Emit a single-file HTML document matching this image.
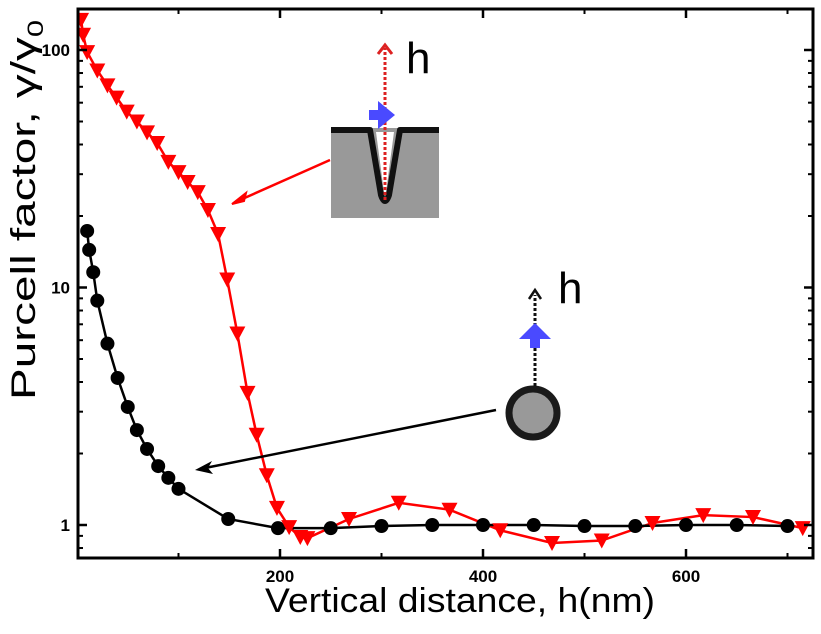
<!DOCTYPE html>
<html><head><meta charset="utf-8"><style>
html,body{margin:0;padding:0;background:#fff;}
svg{display:block;font-family:"Liberation Sans",Arial,sans-serif;}
</style></head><body>
<svg id="chart" width="821" height="634" viewBox="0 0 821 634" xmlns="http://www.w3.org/2000/svg">
<defs><clipPath id="clip"><rect x="78" y="9" width="735" height="549"/></clipPath></defs>
<g id="marks" clip-path="url(#clip)"></g>
<g id="axes"></g>
<g>
<rect x="331" y="128" width="108" height="90" fill="#999"/>
<path d="M331 130 L370 130 L381 195 Q385 207 389 195 L400 130 L439 130" fill="none" stroke="#111" stroke-width="6" stroke-linejoin="round"/>
<path d="M376 132 L384 192 L386 192 L394 132 Z" fill="#fff"/>
<line x1="385" y1="200" x2="385" y2="48" stroke="#d22" stroke-width="3" stroke-dasharray="3,2"/>
<path d="M378 54 L385 45 L392 54" fill="none" stroke="#d22" stroke-width="3"/>
<rect x="369" y="110" width="10" height="10" fill="#4a4aff"/>
<path d="M378 101 L395 115 L378 129 Z" fill="#4a4aff"/>
<text x="406" y="73" font-size="44" fill="#000">h</text>
</g>
<line x1="330" y1="160" x2="240" y2="200" stroke="#f00" stroke-width="2.5"/>
<path d="M232 204 L246 193 L244 201 Z" fill="#f00" stroke="#f00" stroke-width="2"/>
<g>
<circle cx="533" cy="413" r="24" fill="#999" stroke="#1a1a1a" stroke-width="7"/>
<line x1="535" y1="386" x2="535" y2="295" stroke="#111" stroke-width="3" stroke-dasharray="3,2"/>
<path d="M529 299 L535 290 L541 299" fill="none" stroke="#111" stroke-width="2.5"/>
<path d="M519 339 L535 323 L551 339 Z" fill="#4a4aff"/>
<rect x="530" y="338" width="10" height="10" fill="#4a4aff"/>
<text x="558" y="303" font-size="44" fill="#000">h</text>
</g>
<line x1="496" y1="410" x2="205" y2="468" stroke="#000" stroke-width="2.5"/>
<path d="M195 470 L212 461 L208 468 L213 474 Z" fill="#000"/>
<text x="265" y="612" font-size="34" textLength="390" lengthAdjust="spacingAndGlyphs">Vertical distance, h(nm)</text>
<text transform="translate(35,400) rotate(-90)" font-size="34" textLength="380" lengthAdjust="spacingAndGlyphs">Purcell factor, γ/γ<tspan font-size="22" dy="8">0</tspan></text>
</svg>
<script>
const blackX=[10,12,16,20,30,40,50,59,69,80,90,100,149,198,250,300,350,400,450,500,550,600,650,700];
const blackY=[17.3,14.4,11.6,8.8,5.8,4.16,3.14,2.51,2.09,1.77,1.58,1.42,1.06,0.97,0.97,0.99,1.0,1.0,1.0,0.99,0.99,1.0,1.0,0.99];
const redX=[4,6,10,20,30,39,49,59,69,79,90,100,109,119,129,139,148,158,168,177,187,197,209,220,227,268,317,367,417,468,517,567,617,666,715];
const redY=[134,116,98,82,71,63,55,50,45,40.6,33.8,30.6,27.8,25.2,21.2,16.8,10.8,6.4,3.6,2.4,1.62,1.18,0.98,0.89,0.88,1.06,1.24,1.16,0.95,0.84,0.86,1.02,1.10,1.08,0.97];
const xTicks=[200,400,600];
const xMinor=[100,300,500,700];
const yTicks=[1,10,100];
const yTickLabels=["1","10","100"];
const yMinor=[0.8,0.9,2,3,4,5,6,7,8,9,20,30,40,50,60,70,80,90];
const L=78,R=813,T=9,B=558;
const sx=v=>77+v*1.015;
const sy=v=>525-Math.log10(v)*237.5;
const NS="http://www.w3.org/2000/svg";
const marks=document.getElementById('marks'),axes=document.getElementById('axes');
function mk(tag,attrs,parent){const e=document.createElementNS(NS,tag);for(const k in attrs)e.setAttribute(k,attrs[k]);parent.appendChild(e);return e;}
let p=mk('polyline',{points:redX.map((x,i)=>sx(x)+','+sy(redY[i])).join(' '),fill:'none',stroke:'#f00','stroke-width':2.5},marks);


let q=mk('polyline',{points:blackX.map((x,i)=>sx(x)+','+sy(blackY[i])).join(' '),fill:'none',stroke:'#000','stroke-width':2.5},marks);


blackX.forEach((x,i)=>{const c=mk('circle',{cx:sx(x),cy:sy(blackY[i]),r:7,fill:'#000'},marks);

});
redX.forEach((x,i)=>{const X=sx(x),Y=sy(redY[i]);const t=mk('path',{d:`M${X-8} ${Y-7} L${X+8} ${Y-7} L${X} ${Y+8} Z`,fill:'#f00'},marks);

});
const f=mk('rect',{x:L,y:T,width:R-L,height:B-T,fill:'none',stroke:'#000','stroke-width':3},axes);


xTicks.forEach(v=>{mk('line',{x1:sx(v),x2:sx(v),y1:B,y2:B-9,stroke:'#000','stroke-width':2.5},axes);mk('line',{x1:sx(v),x2:sx(v),y1:T,y2:T+9,stroke:'#000','stroke-width':2.5},axes);
const t=mk('text',{x:sx(v),y:B+24,'font-size':17,'font-weight':'bold','text-anchor':'middle'},axes);t.textContent=v;

});
xMinor.forEach(v=>{mk('line',{x1:sx(v),x2:sx(v),y1:B,y2:B-5,stroke:'#000','stroke-width':2},axes);mk('line',{x1:sx(v),x2:sx(v),y1:T,y2:T+5,stroke:'#000','stroke-width':2},axes);});
yTicks.forEach((v,i)=>{mk('line',{x1:L,x2:L+9,y1:sy(v),y2:sy(v),stroke:'#000','stroke-width':2.5},axes);mk('line',{x1:R,x2:R-9,y1:sy(v),y2:sy(v),stroke:'#000','stroke-width':2.5},axes);
const t=mk('text',{x:L-8,y:sy(v)+6,'font-size':17,'font-weight':'bold','text-anchor':'end'},axes);t.textContent=yTickLabels[i];

});
yMinor.forEach(v=>{mk('line',{x1:L,x2:L+5,y1:sy(v),y2:sy(v),stroke:'#000','stroke-width':2},axes);mk('line',{x1:R,x2:R-5,y1:sy(v),y2:sy(v),stroke:'#000','stroke-width':2},axes);});
</script>
</body></html>
